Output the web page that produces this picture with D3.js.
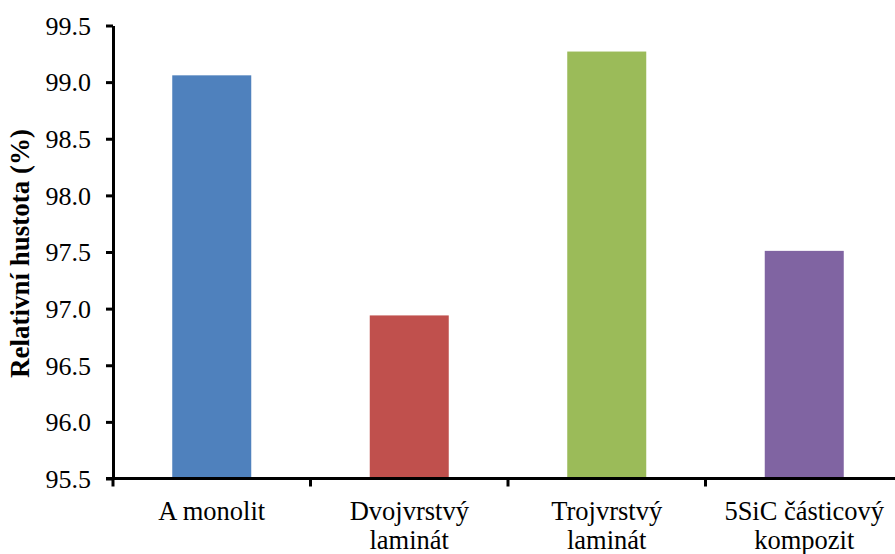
<!DOCTYPE html>
<html>
<head>
<meta charset="utf-8">
<script src="https://cdn.jsdelivr.net/npm/d3@7"></script>
<style>
  body { margin: 0; background: #fff; }
</style>
</head>
<body>
<svg id="chart" width="895" height="554" font-family="Liberation Serif"></svg>
<script>
// Data
const categories = ['A monolit', 'Dvojvrstvý laminát', 'Trojvrstvý laminát', '5SiC částicový kompozit'];
const labelLines = [['A monolit'], ['Dvojvrstvý', 'laminát'], ['Trojvrstvý', 'laminát'], ['5SiC částicový', 'kompozit']];
const values = [99.06, 96.94, 99.27, 97.51];
const colors = ['#4F81BD', '#C0504D', '#9BBB59', '#8064A2'];
const yTicks = [95.5, 96.0, 96.5, 97.0, 97.5, 98.0, 98.5, 99.0, 99.5];
const yTitle = 'Relativní hustota (%)';

const FONT = 'Liberation Serif';

const dims = {
  width: 895,
  height: 554,
  left: 113,
  right: 903,   // plot runs past the right edge, as in the reference
  top: 25.5,
  bottom: 478.5
};

const svg = d3.select('#chart');

// Scales
const x = d3.scaleBand()
  .domain(categories)
  .range([dims.left, dims.right])
  .paddingInner(0.6)
  .paddingOuter(0.3);

const y = d3.scaleLinear()
  .domain([95.5, 99.5])
  .range([dims.bottom, dims.top]);

// Bars
svg.append('g')
  .selectAll('rect')
  .data(categories)
  .enter()
  .append('rect')
  .attr('x', d => x(d))
  .attr('y', (d, i) => y(values[i]))
  .attr('width', x.bandwidth())
  .attr('height', (d, i) => y(95.5) - y(values[i]))
  .attr('fill', (d, i) => colors[i]);

// Y axis
const yAxis = d3.axisLeft(y)
  .tickValues(yTicks)
  .tickFormat(d3.format('.1f'))
  .tickSize(7)
  .tickSizeOuter(0)
  .tickPadding(15);

const gy = svg.append('g')
  .attr('transform', `translate(${dims.left},0)`)
  .call(yAxis)
  .attr('font-family', FONT)
  .attr('font-size', 26);
gy.select('.domain').attr('stroke', '#000').attr('stroke-width', 3);
gy.selectAll('.tick line').attr('stroke', '#000').attr('stroke-width', 3);
gy.selectAll('.tick text')
  .attr('fill', '#000')
  .attr('dy', '0.34em');

// X axis: line plus ticks between the categories
const xAxis = d3.axisBottom(x).tickSize(0).tickSizeOuter(0).tickFormat('');
const gx = svg.append('g')
  .attr('transform', `translate(0,${dims.bottom})`)
  .call(xAxis);
gx.select('.domain').attr('stroke', '#000').attr('stroke-width', 3)
  .attr('d', `M${dims.left - 7},0H${dims.right}`);
gx.selectAll('.tick').remove();

const step = x.step();
const boundaries = categories.map((c, i) => i === 0 ? dims.left : x(c) - step * x.paddingInner() / 2);
svg.append('g')
  .selectAll('line')
  .data(boundaries)
  .enter()
  .append('line')
  .attr('x1', d => d)
  .attr('x2', d => d)
  .attr('y1', dims.bottom)
  .attr('y2', dims.bottom + 8)
  .attr('stroke', '#000')
  .attr('stroke-width', 3);

// Category labels
const labels = svg.append('g')
  .attr('font-family', FONT)
  .attr('font-size', 26.5)
  .selectAll('text')
  .data(categories)
  .enter()
  .append('text')
  .attr('text-anchor', 'middle')
  .attr('x', d => x(d) + x.bandwidth() / 2)
  .attr('y', 520);
labels.selectAll('tspan')
  .data((d, i) => labelLines[i])
  .enter()
  .append('tspan')
  .attr('x', function () { return this.parentNode.getAttribute('x'); })
  .attr('dy', (d, i) => i === 0 ? 0 : 29)
  .text(d => d);

// Y axis title
svg.append('text')
  .attr('transform', `translate(29,${(122 + 385) / 2}) rotate(-90)`)
  .attr('text-anchor', 'middle')
  .attr('font-family', FONT)
  .attr('font-size', 27)
  .attr('font-weight', 'bold')
  .text(yTitle);
</script>
</body>
</html>
